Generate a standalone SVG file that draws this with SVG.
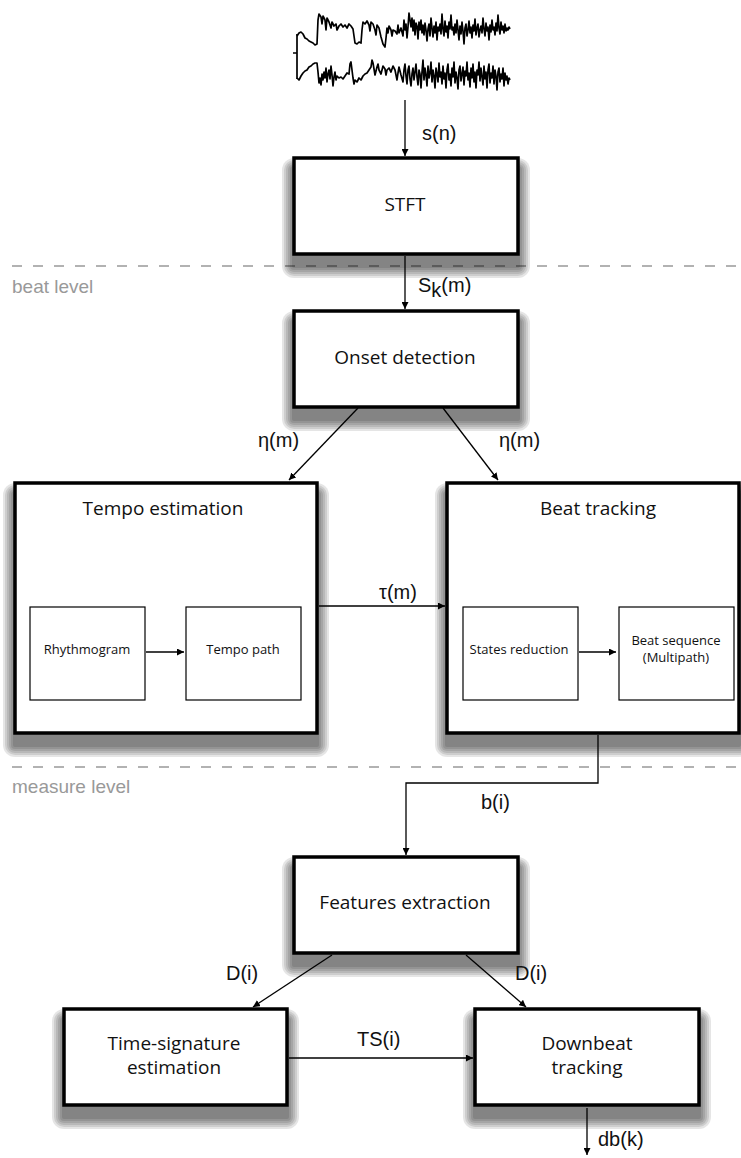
<svg xmlns="http://www.w3.org/2000/svg" width="741" height="1158" viewBox="0 0 741 1158">
  <style>
    .box { fill: #fff; stroke: #000; stroke-width: 3.5; }
    .inner { fill: #fff; stroke: #000; stroke-width: 1.2; }
    .sh { fill: #000; fill-opacity: 0.1; stroke: none; }
    .lbl { font-family: "Open Sans", "Noto Sans", sans-serif; font-size: 19px; fill: #111; text-anchor: middle; }
    .small { font-family: "Open Sans", "Noto Sans", sans-serif; font-size: 13px; fill: #111; text-anchor: middle; }
    .sig { font-family: "Liberation Sans", Arial, sans-serif; font-size: 20px; fill: #111; }
    .lvl { font-family: "Liberation Sans", Arial, sans-serif; font-size: 19px; fill: #999; }
    .dash { stroke: #999; stroke-width: 1.6; stroke-dasharray: 10 11; fill: none; }
    .conn { stroke: #000; stroke-width: 1.3; fill: none; }
    .wave { stroke: #000; stroke-width: 1.7; fill: none; stroke-linejoin: round; }
  </style>
  <defs>
    <marker id="arrow" viewBox="0 0 10 10" refX="10" refY="5" markerWidth="7" markerHeight="7" markerUnits="userSpaceOnUse" orient="auto">
      <path d="M0,0 L10,5 L0,10 z" fill="#000"/>
    </marker>
  </defs>

  <rect width="741" height="1158" fill="#fff"/>

  <!-- level separators -->
  <g id="levels">
    <line class="dash" x1="12" y1="266" x2="741" y2="266"/>
    <text class="lvl" x="12" y="293">beat level</text>
    <line class="dash" x1="12" y1="767" x2="741" y2="767"/>
    <text class="lvl" x="12" y="793">measure level</text>
  </g>

  <!-- input signal (stereo waveform) -->
  <g id="waveform">
    <path class="wave" d="M293,53 H297 M297,34 V79"/>
    <polyline class="wave" points="297,36 299,33 301,32 303,34 305,38 307,39 309,41 311,42 313,43 315,45 317,44 318,20 319,14 321,17 322,24 323,16 325,20 326,30 327,18 329,22 331,28 332,22 334,26 336,24 337,30 339,26 341,24 343,27 345,25 347,28 349,24 351,26 353,29 354,36 355,43 357,44 359,42 361,43 362,30 363,22 365,24 367,21 369,25 370,31 371,22 373,24 375,30 376,35 377,25 379,28 381,37 383,44 385,47 386,38 387,28 388,33 389,26 391,30 392,36 393,30 395,31 397,34 398,25 399,33 401,28 403,36 404,20 405,30 406,24 407,38 408,27 409,13 410,20 411,27 412,18 413,31 414,20 415,35 416,23 417,26 418,39 419,22 420,30 421,20 422,33 423,25 424,35 425,23 426,30 427,41 428,29 429,24 430,36 431,18 432,28 433,37 434,26 435,33 436,22 437,40 438,27 439,31 440,24 441,34 442,14 443,29 444,36 445,21 446,32 447,26 448,38 449,22 450,29 451,15 452,30 453,27 454,35 455,24 456,33 457,20 458,30 459,40 460,26 461,34 462,22 463,31 464,44 465,28 466,24 467,36 468,30 469,21 470,33 471,27 472,38 473,25 474,31 475,19 476,35 477,28 478,24 479,37 480,30 481,26 482,33 483,18 484,29 485,36 486,23 487,31 488,27 489,40 490,25 491,32 492,20 493,30 494,27 495,35 496,23 497,31 498,15 499,28 500,34 501,22 502,30 503,26 504,33 505,24 506,31 507,28 508,30 509,27 510,29"/>
    <polyline class="wave" points="297,78 299,80 301,76 303,73 305,71 307,70 309,67 311,66 313,64 315,63 317,63 318,72 319,83 320,78 321,85 322,74 323,80 324,72 325,78 326,68 327,82 328,74 329,70 330,79 331,66 332,75 333,86 334,77 335,72 336,80 337,76 339,78 341,77 343,79 345,76 347,73 349,74 350,64 351,62 352,70 353,78 354,84 355,80 357,82 359,78 361,80 363,76 365,74 367,73 369,70 371,67 372,60 373,63 375,75 377,67 378,64 379,70 381,74 383,66 385,69 386,75 387,70 389,68 391,72 393,66 395,70 397,80 398,73 399,67 401,75 403,82 404,70 405,64 406,76 407,84 408,70 409,66 410,79 411,86 412,74 413,68 414,80 415,72 416,64 417,77 418,85 419,70 420,74 421,88 422,72 423,60 424,80 425,68 426,75 427,86 428,66 429,78 430,73 431,62 432,82 433,70 434,76 435,88 436,68 437,74 438,82 439,63 440,77 441,72 442,84 443,66 444,79 445,73 446,88 447,70 448,64 449,80 450,74 451,86 452,68 453,77 454,62 455,83 456,72 457,78 458,89 459,70 460,66 461,81 462,74 463,67 464,85 465,71 466,76 467,62 468,80 469,73 470,87 471,68 472,78 473,64 474,82 475,72 476,88 477,70 478,75 479,62 480,81 481,68 482,77 483,85 484,66 485,79 486,72 487,88 488,70 489,64 490,83 491,73 492,78 493,66 494,84 495,70 496,76 497,90 498,72 499,68 500,82 501,74 502,79 503,68 504,86 505,73 506,80 507,76 508,84 509,78 510,80"/>
  </g>

  <!-- soft drop shadows under the main blocks -->
  <g id="shadows">
    <rect class="sh" x="292" y="168" width="228" height="100" rx="2"/>
    <rect class="sh" x="290" y="166" width="232" height="104" rx="4"/>
    <rect class="sh" x="288" y="164" width="236" height="108" rx="6"/>
    <rect class="sh" x="286" y="162" width="240" height="112" rx="8"/>
    <rect class="sh" x="284" y="160" width="244" height="116" rx="10"/>
    <rect class="sh" x="282" y="158" width="248" height="120" rx="12"/>

    <rect class="sh" x="292" y="321" width="228" height="100" rx="2"/>
    <rect class="sh" x="290" y="319" width="232" height="104" rx="4"/>
    <rect class="sh" x="288" y="317" width="236" height="108" rx="6"/>
    <rect class="sh" x="286" y="315" width="240" height="112" rx="8"/>
    <rect class="sh" x="284" y="313" width="244" height="116" rx="10"/>
    <rect class="sh" x="282" y="311" width="248" height="120" rx="12"/>

    <rect class="sh" x="13" y="493" width="306" height="254" rx="2"/>
    <rect class="sh" x="11" y="491" width="310" height="258" rx="4"/>
    <rect class="sh" x="9" y="489" width="314" height="262" rx="6"/>
    <rect class="sh" x="7" y="487" width="318" height="266" rx="8"/>
    <rect class="sh" x="5" y="485" width="322" height="270" rx="10"/>
    <rect class="sh" x="3" y="483" width="326" height="274" rx="12"/>

    <rect class="sh" x="445" y="493" width="296" height="254" rx="2"/>
    <rect class="sh" x="443" y="491" width="300" height="258" rx="4"/>
    <rect class="sh" x="441" y="489" width="304" height="262" rx="6"/>
    <rect class="sh" x="439" y="487" width="308" height="266" rx="8"/>
    <rect class="sh" x="437" y="485" width="312" height="270" rx="10"/>
    <rect class="sh" x="435" y="483" width="316" height="274" rx="12"/>

    <rect class="sh" x="292" y="867" width="228" height="100" rx="2"/>
    <rect class="sh" x="290" y="865" width="232" height="104" rx="4"/>
    <rect class="sh" x="288" y="863" width="236" height="108" rx="6"/>
    <rect class="sh" x="286" y="861" width="240" height="112" rx="8"/>
    <rect class="sh" x="284" y="859" width="244" height="116" rx="10"/>
    <rect class="sh" x="282" y="857" width="248" height="120" rx="12"/>

    <rect class="sh" x="62" y="1019" width="227" height="100" rx="2"/>
    <rect class="sh" x="60" y="1017" width="231" height="104" rx="4"/>
    <rect class="sh" x="58" y="1015" width="235" height="108" rx="6"/>
    <rect class="sh" x="56" y="1013" width="239" height="112" rx="8"/>
    <rect class="sh" x="54" y="1011" width="243" height="116" rx="10"/>
    <rect class="sh" x="52" y="1009" width="247" height="120" rx="12"/>

    <rect class="sh" x="473" y="1019" width="228" height="100" rx="2"/>
    <rect class="sh" x="471" y="1017" width="232" height="104" rx="4"/>
    <rect class="sh" x="469" y="1015" width="236" height="108" rx="6"/>
    <rect class="sh" x="467" y="1013" width="240" height="112" rx="8"/>
    <rect class="sh" x="465" y="1011" width="244" height="116" rx="10"/>
    <rect class="sh" x="463" y="1009" width="248" height="120" rx="12"/>
  </g>

  <!-- connectors -->
  <g id="connectors">
    <line class="conn" x1="405" y1="100" x2="405" y2="156" marker-end="url(#arrow)"/>
    <text class="sig" x="422" y="140">s(n)</text>

    <line class="conn" x1="405" y1="256" x2="405" y2="309" marker-end="url(#arrow)"/>
    <text class="sig" x="418" y="292">S<tspan dy="5">k</tspan><tspan dy="-5">(m)</tspan></text>

    <line class="conn" x1="358" y1="408" x2="289" y2="480" marker-end="url(#arrow)"/>
    <text class="sig" x="258" y="447">η(m)</text>
    <line class="conn" x1="443" y1="408" x2="498" y2="480" marker-end="url(#arrow)"/>
    <text class="sig" x="499" y="447">η(m)</text>

    <line class="conn" x1="319" y1="606" x2="445" y2="606" marker-end="url(#arrow)"/>
    <text class="sig" x="379" y="599">τ(m)</text>

    <polyline class="conn" points="598,735 598,783 406,783 406,855" marker-end="url(#arrow)"/>
    <text class="sig" x="481" y="809">b(i)</text>

    <line class="conn" x1="332" y1="955" x2="253" y2="1007" marker-end="url(#arrow)"/>
    <text class="sig" x="226" y="980">D(i)</text>
    <line class="conn" x1="466" y1="955" x2="526" y2="1007" marker-end="url(#arrow)"/>
    <text class="sig" x="515" y="980">D(i)</text>

    <line class="conn" x1="289" y1="1058" x2="473" y2="1058" marker-end="url(#arrow)"/>
    <text class="sig" x="357" y="1046">TS(i)</text>

    <line class="conn" x1="587" y1="1108" x2="587" y2="1155" marker-end="url(#arrow)"/>
    <text class="sig" x="598" y="1146">db(k)</text>
  </g>

  <g id="stft">
    <rect class="box" x="294" y="158" width="224" height="96"/>
    <text class="lbl" x="405" y="211">STFT</text>
  </g>

  <g id="onset-detection">
    <rect class="box" x="294" y="311" width="224" height="96"/>
    <text class="lbl" x="405" y="364">Onset detection</text>
  </g>

  <g id="tempo-estimation">
    <rect class="box" x="15" y="483" width="302" height="250"/>
    <text class="lbl" x="163" y="515">Tempo estimation</text>
    <g id="rhythmogram">
      <rect class="inner" x="30" y="607" width="115" height="93"/>
      <text class="small" x="87" y="654">Rhythmogram</text>
    </g>
    <line class="conn" x1="146" y1="652" x2="184" y2="652" marker-end="url(#arrow)"/>
    <g id="tempo-path">
      <rect class="inner" x="186" y="607" width="115" height="93"/>
      <text class="small" x="243" y="654">Tempo path</text>
    </g>
  </g>

  <g id="beat-tracking">
    <rect class="box" x="447" y="483" width="292" height="250"/>
    <text class="lbl" x="598" y="515">Beat tracking</text>
    <g id="states-reduction">
      <rect class="inner" x="463" y="607" width="115" height="93"/>
      <text class="small" x="519" y="654">States reduction</text>
    </g>
    <line class="conn" x1="579" y1="652" x2="616" y2="652" marker-end="url(#arrow)"/>
    <g id="beat-sequence">
      <rect class="inner" x="619" y="607" width="115" height="93"/>
      <text class="small" x="676" y="645">Beat sequence</text>
      <text class="small" x="676" y="662">(Multipath)</text>
    </g>
  </g>

  <g id="features-extraction">
    <rect class="box" x="294" y="857" width="224" height="96"/>
    <text class="lbl" x="405" y="909">Features extraction</text>
  </g>

  <g id="time-signature-estimation">
    <rect class="box" x="64" y="1009" width="223" height="96"/>
    <text class="lbl" x="174" y="1050">Time-signature</text>
    <text class="lbl" x="174" y="1074">estimation</text>
  </g>

  <g id="downbeat-tracking">
    <rect class="box" x="475" y="1009" width="224" height="96"/>
    <text class="lbl" x="587" y="1050">Downbeat</text>
    <text class="lbl" x="587" y="1074">tracking</text>
  </g>
</svg>
